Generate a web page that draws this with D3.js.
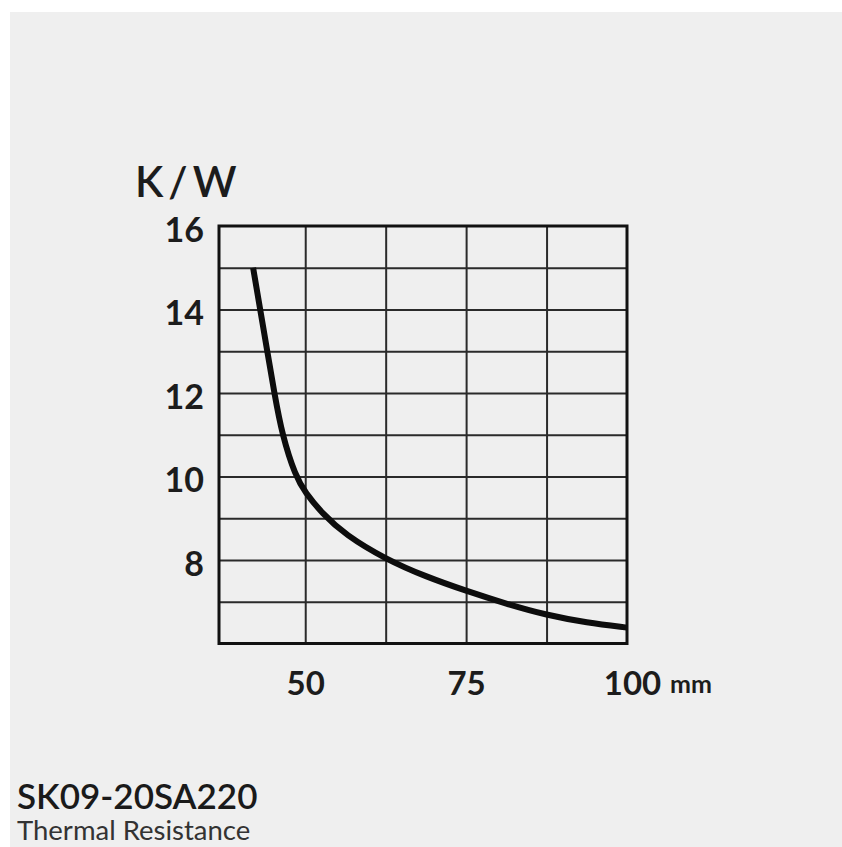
<!DOCTYPE html>
<html>
<head>
<meta charset="utf-8">
<script src="https://cdn.jsdelivr.net/npm/d3@7"></script>
<style>
  html, body { margin: 0; padding: 0; background: #ffffff; }
  svg { display: block; }
</style>
</head>
<body>
<svg id="chart" width="842" height="847"></svg>
<script>
// heatsink length (mm) vs thermal resistance (K/W)
const lengthMm = [41.9, 43.0, 44.1, 45.2, 46.4, 48.5, 50, 52.6, 56.25, 62.5, 68.75, 75, 81.25, 87.5, 93.75, 100];
const resistance = [15.0, 14.0, 13.0, 12.0, 11.0, 10.0, 9.62, 9.12, 8.6, 8.02, 7.6, 7.26, 6.95, 6.68, 6.5, 6.38];

const xTicks = [50, 75, 100];
const xGrid = [50, 62.5, 75, 87.5];
const yTicks = [8, 10, 12, 14, 16];
const yGrid = [7, 8, 9, 10, 11, 12, 13, 14, 15];

const partName = "SK09-20SA220";
const subTitle = "Thermal Resistance";
const yUnit = "K/W";
const xUnit = "mm";

const W = 842, H = 847;
const box = { left: 219, right: 627, top: 226, bottom: 643.5 };
const font = "Lato, 'Open Sans', sans-serif";
const ink = "#1c1c1c";

const svg = d3.select("#chart");

// scanned paper background with a white margin top/left
svg.append("rect").attr("width", W).attr("height", H).attr("fill", "#ffffff");
svg.append("rect").attr("x", 10).attr("y", 12).attr("width", W - 10).attr("height", H - 12).attr("fill", "#efefef");

const x = d3.scaleLinear().domain([36.6, 100]).range([box.left, box.right]);
const y = d3.scaleLinear().domain([6, 16]).range([box.bottom, box.top]);

const plotW = box.right - box.left;
const plotH = box.bottom - box.top;

// grid
svg.append("g")
  .attr("transform", `translate(0,${box.bottom})`)
  .call(d3.axisBottom(x).tickValues(xGrid).tickSize(-plotH).tickFormat(""))
  .call(g => g.select(".domain").remove())
  .selectAll("line").attr("stroke", "#2a2a2a").attr("stroke-width", 2);

svg.append("g")
  .attr("transform", `translate(${box.left},0)`)
  .call(d3.axisLeft(y).tickValues(yGrid).tickSize(-plotW).tickFormat(""))
  .call(g => g.select(".domain").remove())
  .selectAll("line").attr("stroke", "#2a2a2a").attr("stroke-width", 2);

// frame
svg.append("rect")
  .attr("x", box.left).attr("y", box.top)
  .attr("width", plotW).attr("height", plotH)
  .attr("fill", "none").attr("stroke", "#111").attr("stroke-width", 3);

// tick labels
const yAxis = svg.append("g")
  .attr("transform", `translate(${box.left},0)`)
  .call(d3.axisLeft(y).tickValues(yTicks).tickSize(0).tickPadding(15));
yAxis.select(".domain").remove();
yAxis.selectAll("text")
  .attr("dy", "0.45em")
  .style("font-family", font).style("font-size", "34px").style("font-weight", 700)
  .attr("fill", ink);

const xAxis = svg.append("g")
  .attr("transform", `translate(0,${box.bottom})`)
  .call(d3.axisBottom(x).tickValues(xTicks).tickSize(0).tickPadding(28));
xAxis.select(".domain").remove();
xAxis.selectAll("text")
  .attr("dx", d => d === 100 ? 5 : 0)
  .style("font-family", font).style("font-size", "33px").style("font-weight", 700)
  .attr("fill", ink);

svg.append("text")
  .attr("x", 670).attr("y", 693)
  .style("font-family", font).style("font-size", "25px").style("font-weight", 700)
  .attr("fill", ink)
  .text(xUnit);

svg.append("text")
  .attr("x", 135).attr("y", 197)
  .style("font-family", font).style("font-size", "42px").style("font-weight", 600)
  .style("letter-spacing", "5px")
  .attr("fill", ink)
  .text(yUnit);

// curve
const pts = lengthMm.map((v, i) => [v, resistance[i]]);
svg.append("path")
  .datum(pts)
  .attr("d", d3.line().x(d => x(d[0])).y(d => y(d[1])).curve(d3.curveBasis))
  .attr("fill", "none")
  .attr("stroke", "#0d0d0d")
  .attr("stroke-width", 6)
  .attr("stroke-linecap", "butt");

// caption
svg.append("text")
  .attr("x", 17).attr("y", 809)
  .style("font-family", font).style("font-size", "35px").style("font-weight", 600)
  .attr("fill", "#1a1a1a")
  .text(partName);

svg.append("text")
  .attr("x", 17).attr("y", 840)
  .style("font-family", font).style("font-size", "27.5px").style("font-weight", 400)
  .attr("fill", "#333")
  .text(subTitle);
</script>
</body>
</html>
